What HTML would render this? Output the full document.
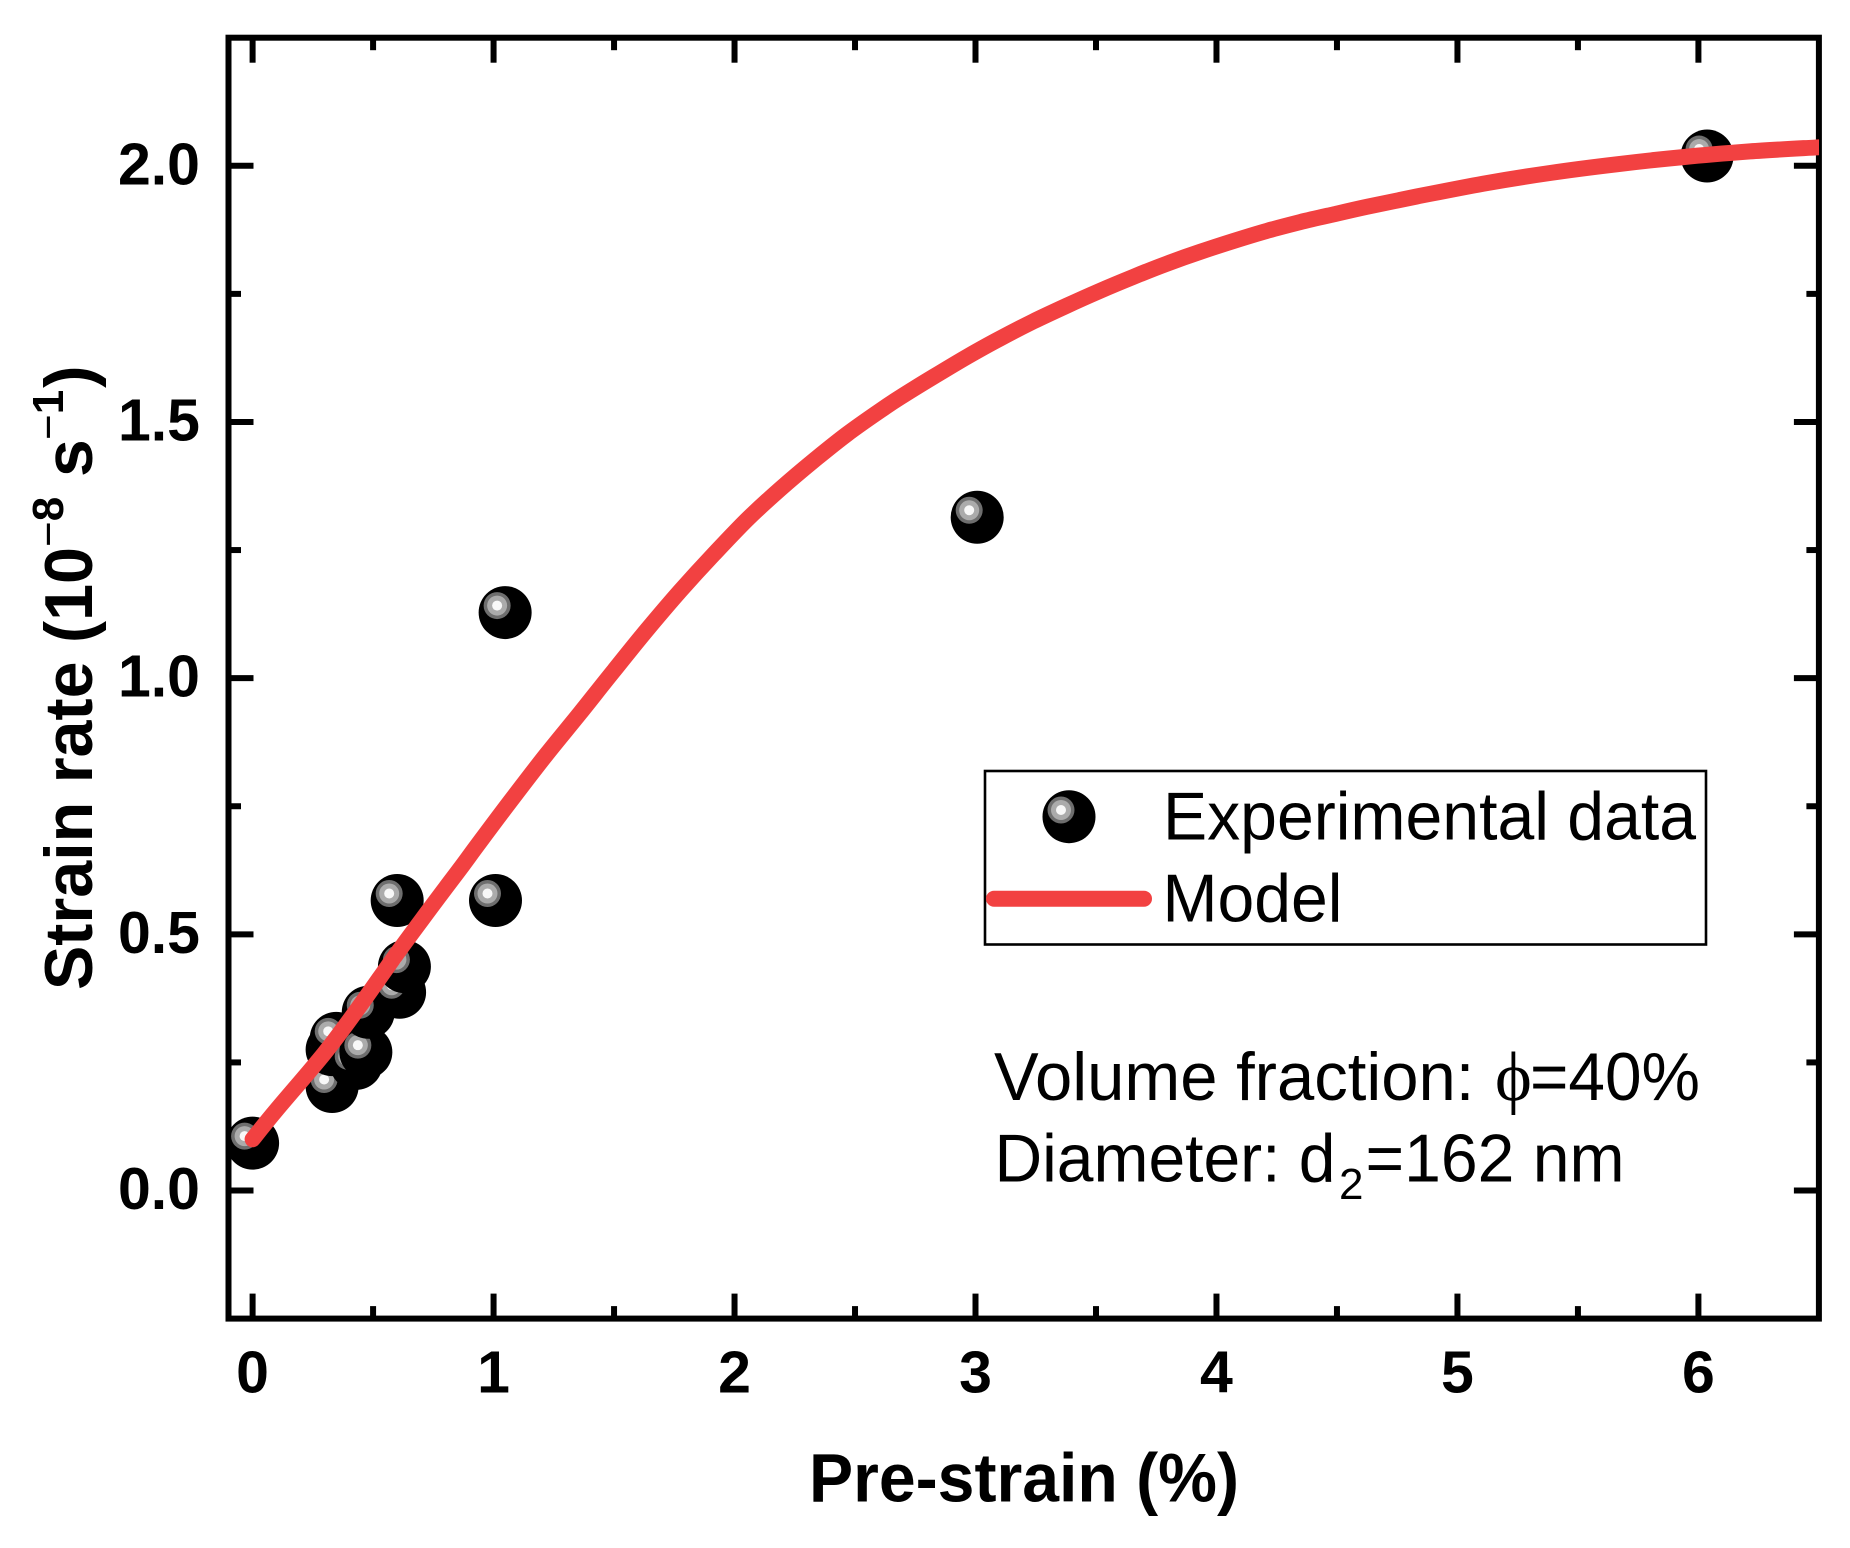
<!DOCTYPE html>
<html lang="en">
<head>
<meta charset="utf-8">
<title>Strain rate vs pre-strain</title>
<style>
html,body{margin:0;padding:0;background:#fff;}
svg{display:block;}
text{font-family:"Liberation Sans",sans-serif;fill:#000;}
.b{font-weight:bold;}
</style>
</head>
<body>
<svg id="chart" xmlns="http://www.w3.org/2000/svg" width="1850" height="1548" viewBox="0 0 1850 1548">
  <defs>
    <clipPath id="line-clip"><rect x="200" y="20" width="1619" height="1320"/></clipPath>
  </defs>
  <rect x="0" y="0" width="1850" height="1548" fill="#ffffff"/>
  <g id="ticks"></g>
  <g id="tick-labels"></g>
  <rect id="frame" fill="none" stroke="#000" stroke-width="6"/>
  <g id="points"></g>
  <path id="model-line" fill="none" stroke="#f24141" stroke-width="16" stroke-linecap="round" stroke-linejoin="round" clip-path="url(#line-clip)"/>

  <text class="b" x="809" y="1501.7" font-size="69" textLength="430" lengthAdjust="spacingAndGlyphs">Pre-strain (%)</text>
  <text class="b" transform="translate(92,990) rotate(-90)" font-size="68"><tspan x="0" textLength="443" lengthAdjust="spacingAndGlyphs">Strain rate (10</tspan><tspan x="443" dy="-29" font-size="44" font-weight="normal">−</tspan><tspan font-size="44">8</tspan><tspan x="513" dy="29">s</tspan><tspan x="550" dy="-29" font-size="44" font-weight="normal">−</tspan><tspan font-size="44">1</tspan><tspan x="602" dy="29">)</tspan></text>

  <g>
    <rect x="985" y="771" width="721" height="173.5" fill="#fff" stroke="#000" stroke-width="2.6"/>
    <g>
      <circle cx="1069" cy="816.7" r="26.5" fill="#000"/>
      <circle cx="1061" cy="810" r="13.5" fill="#6e6e6e"/>
      <circle cx="1061" cy="810" r="10" fill="#ababab"/>
      <circle cx="1061" cy="810" r="5" fill="#f8f8f8"/>
    </g>
    <text x="1163" y="839.3" font-size="68" textLength="533" lengthAdjust="spacingAndGlyphs">Experimental data</text>
    <line x1="994" y1="898.7" x2="1144" y2="898.7" stroke="#f24141" stroke-width="16" stroke-linecap="round"/>
    <text x="1162.5" y="921.7" font-size="68" textLength="180" lengthAdjust="spacingAndGlyphs">Model</text>
  </g>

  <g>
    <text y="1100" font-size="68"><tspan x="994" textLength="499" lengthAdjust="spacingAndGlyphs">Volume fraction: </tspan><tspan x="1495" style="font-family:'Liberation Serif',serif" font-size="70">ϕ</tspan><tspan x="1530" textLength="170" lengthAdjust="spacingAndGlyphs">=40%</tspan></text>
    <text y="1181.7" font-size="68"><tspan x="994.5" textLength="341" lengthAdjust="spacingAndGlyphs">Diameter: d</tspan><tspan x="1339" dy="17.5" font-size="44">2</tspan><tspan x="1365.5" dy="-17.5" textLength="259" lengthAdjust="spacingAndGlyphs">=162 nm</tspan></text>
  </g>
</svg>
<script>
// ---- chart data ----
const xMajorTicks = [0, 1, 2, 3, 4, 5, 6];
const xMinorTicks = [0.5, 1.5, 2.5, 3.5, 4.5, 5.5];
const yMajorTicks = [0, 0.5, 1, 1.5, 2];
const yMinorTicks = [0.25, 0.75, 1.25, 1.75];
const xTickLabels = ['0', '1', '2', '3', '4', '5', '6'];
const yTickLabels = ['0.0', '0.5', '1.0', '1.5', '2.0'];
const expStrain = [0, 0.33, 0.33, 0.347, 0.43, 0.47, 0.48, 0.61, 0.63, 0.6, 1.008, 1.048, 3.007, 6.036];
const expRate = [0.0925, 0.203, 0.275, 0.297, 0.248, 0.27, 0.348, 0.387, 0.437, 0.566, 0.566, 1.128, 1.314, 2.019];
const modelStrain = [0, 0.1, 0.298, 0.437, 0.592, 0.7, 0.8, 0.861, 0.944, 1.083, 1.221, 1.359, 1.498, 1.636, 1.774, 1.912, 2.051, 2.189, 2.327, 2.466, 2.604, 2.687, 2.825, 2.964, 3.102, 3.239, 3.379, 3.517, 3.654, 3.794, 3.932, 4.069, 4.209, 4.347, 4.484, 4.624, 4.831, 5.106, 5.384, 5.661, 5.936, 6.214, 6.5];
const modelRate = [0.1, 0.158, 0.268, 0.355, 0.458, 0.527, 0.59, 0.628, 0.681, 0.768, 0.852, 0.932, 1.014, 1.094, 1.17, 1.241, 1.309, 1.369, 1.424, 1.476, 1.522, 1.548, 1.588, 1.627, 1.663, 1.696, 1.727, 1.756, 1.783, 1.809, 1.832, 1.853, 1.873, 1.89, 1.905, 1.92, 1.94, 1.965, 1.986, 2.003, 2.017, 2.028, 2.036];

// ---- axes ----
const xDomain = [-0.1, 6.5];
const yDomain = [-0.25, 2.25];
const plot = { left: 228.5, right: 1818.9, top: 37.7, bottom: 1318.6 };
const sx = v => plot.left + (v - xDomain[0]) / (xDomain[1] - xDomain[0]) * (plot.right - plot.left);
const sy = v => plot.bottom - (v - yDomain[0]) / (yDomain[1] - yDomain[0]) * (plot.bottom - plot.top);
const NS = 'http://www.w3.org/2000/svg';

function mk(tag, attrs, parent) {
  const el = document.createElementNS(NS, tag);
  for (const k in attrs) el.setAttribute(k, attrs[k]);
  parent.appendChild(el);
  return el;
}

const frame = document.getElementById('frame');
frame.setAttribute('x', plot.left);
frame.setAttribute('y', plot.top);
frame.setAttribute('width', plot.right - plot.left);
frame.setAttribute('height', plot.bottom - plot.top);

const ticks = document.getElementById('ticks');
const MAJOR = 25, MINOR = 12.5;
function xTick(v, len, kind) {
  const bottom = mk('line', { x1: sx(v), x2: sx(v), y1: plot.bottom, y2: plot.bottom - len, stroke: '#000', 'stroke-width': 6 }, ticks);
  
  
  const top = mk('line', { x1: sx(v), x2: sx(v), y1: plot.top, y2: plot.top + len, stroke: '#000', 'stroke-width': 6 }, ticks);
  
  
}
function yTick(v, len, kind) {
  const left = mk('line', { x1: plot.left, x2: plot.left + len, y1: sy(v), y2: sy(v), stroke: '#000', 'stroke-width': 6 }, ticks);
  
  
  const right = mk('line', { x1: plot.right, x2: plot.right - len, y1: sy(v), y2: sy(v), stroke: '#000', 'stroke-width': 6 }, ticks);
  
  
}
xMajorTicks.forEach(v => xTick(v, MAJOR, 'x-major'));
xMinorTicks.forEach(v => xTick(v, MINOR, 'x-minor'));
yMajorTicks.forEach(v => yTick(v, MAJOR, 'y-major'));
yMinorTicks.forEach(v => yTick(v, MINOR, 'y-minor'));

const labels = document.getElementById('tick-labels');
xMajorTicks.forEach((v, i) => {
  const t = mk('text', { x: sx(v), y: 1392.6, 'text-anchor': 'middle', 'font-size': 59, 'font-weight': 'bold' }, labels);
  
  
  t.textContent = xTickLabels[i];
});
yMajorTicks.forEach((v, i) => {
  const t = mk('text', { x: 200, y: sy(v) + 18.5, 'text-anchor': 'end', 'font-size': 59, 'font-weight': 'bold' }, labels);
  
  
  t.textContent = yTickLabels[i];
});

const points = document.getElementById('points');
expStrain.forEach((x, i) => {
  const cx = sx(x), cy = sy(expRate[i]);
  const g = mk('g', {}, points);
  
  
  mk('circle', { cx: cx, cy: cy, r: 26.5, fill: '#000' }, g);
  mk('circle', { cx: cx - 8, cy: cy - 7, r: 13.5, fill: '#6e6e6e' }, g);
  mk('circle', { cx: cx - 8, cy: cy - 7, r: 10, fill: '#ababab' }, g);
  mk('circle', { cx: cx - 8, cy: cy - 7, r: 5, fill: '#f8f8f8' }, g);
});

// Smooth curve through the model samples (Catmull-Rom to cubic Bezier)
const pts = modelStrain.map((x, i) => [sx(x), sy(modelRate[i])]);
let d = 'M' + pts[0][0].toFixed(1) + ' ' + pts[0][1].toFixed(1);
for (let i = 0; i < pts.length - 1; i++) {
  const p0 = pts[Math.max(i - 1, 0)], p1 = pts[i], p2 = pts[i + 1], p3 = pts[Math.min(i + 2, pts.length - 1)];
  const c1x = p1[0] + (p2[0] - p0[0]) / 6, c1y = p1[1] + (p2[1] - p0[1]) / 6;
  const c2x = p2[0] - (p3[0] - p1[0]) / 6, c2y = p2[1] - (p3[1] - p1[1]) / 6;
  d += ' C' + c1x.toFixed(1) + ' ' + c1y.toFixed(1) + ' ' + c2x.toFixed(1) + ' ' + c2y.toFixed(1) + ' ' + p2[0].toFixed(1) + ' ' + p2[1].toFixed(1);
}
document.getElementById('model-line').setAttribute('d', d);
</script>
</body>
</html>
